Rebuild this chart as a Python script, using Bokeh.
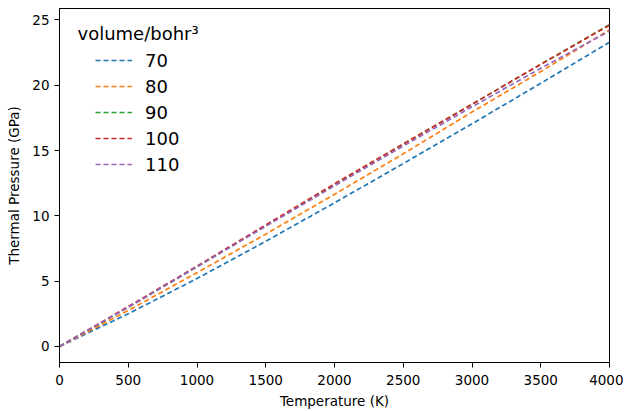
from bokeh.plotting import figure
from bokeh.models import Range1d, Legend, LegendItem, Label, SingleIntervalTicker
from bokeh.embed import file_html
from bokeh.resources import INLINE

temperature = [0, 500, 1000, 1500, 2000, 2500, 3000, 3500, 4000]
volumes = ["70", "80", "90", "100", "110"]
p_70 = [0, 2.5, 5.2, 8.05, 11.0, 14.0, 17.05, 20.15, 23.3]
p_80 = [0, 2.75, 5.65, 8.6, 11.65, 14.75, 17.95, 21.05, 24.25]
p_90 = [0, 3.0, 6.1, 9.25, 12.4, 15.5, 18.55, 21.6, 24.65]
p_100 = [0, 3.05, 6.15, 9.3, 12.45, 15.5, 18.55, 21.6, 24.6]
p_110 = [0, 3.0, 6.1, 9.2, 12.3, 15.35, 18.35, 21.3, 24.15]
series = [p_70, p_80, p_90, p_100, p_110]
colors = ["#1f77b4", "#ff7f0e", "#2ca02c", "#d62728", "#9467bd"]

FONT = "DejaVu Sans"

p = figure(width=623, height=411, output_backend="svg", toolbar_location=None,
           x_range=Range1d(0, 4000), y_range=Range1d(-1.23, 25.88),
           min_border_left=59, min_border_right=14, min_border_top=8, min_border_bottom=48)
p.grid.visible = False
p.outline_line_color = "black"
p.outline_line_width = 1
p.background_fill_color = "white"
p.border_fill_color = "white"

p.xaxis.ticker = SingleIntervalTicker(interval=500)
p.yaxis.ticker = SingleIntervalTicker(interval=5)
for ax in (p.xaxis[0], p.yaxis[0]):
    ax.axis_line_color = "black"
    ax.major_tick_line_color = "black"
    ax.major_tick_out = 5
    ax.major_tick_in = 0
    ax.minor_tick_line_color = None
    ax.major_label_text_font = FONT
    ax.major_label_text_font_size = "13.5px"
    ax.major_label_text_color = "black"
    ax.axis_label_text_font = FONT
    ax.axis_label_text_font_size = "13.5px"
    ax.axis_label_text_font_style = "normal"
    ax.axis_label_text_color = "black"
p.xaxis.axis_label = "Temperature (K)"
p.yaxis.axis_label = "Thermal Pressure (GPa)"
p.xaxis.major_label_standoff = 7
p.yaxis.major_label_standoff = 5
p.xaxis.axis_label_standoff = 5
p.yaxis.axis_label_standoff = 7

items = []
for vol, vals, c in zip(volumes, series, colors):
    r = p.line(temperature, vals, line_color=c, line_width=1.7, line_dash="5 3")
    items.append(LegendItem(label=vol, renderers=[r]))

legend = Legend(items=items, location=(36, 185), padding=0, margin=0,
                glyph_width=37, glyph_height=26, label_height=26, spacing=0,
                label_standoff=13, label_text_font=FONT, label_text_font_size="18px",
                label_text_color="black",
                border_line_alpha=0, background_fill_alpha=0)
p.add_layout(legend, "center")

title = Label(x=131, y=24.0, text="volume/bohr³", text_font=FONT, text_color="black",
              text_font_size="18px", text_baseline="alphabetic", text_align="left")
p.add_layout(title)

open("out.html", "w").write(file_html(p, INLINE))
